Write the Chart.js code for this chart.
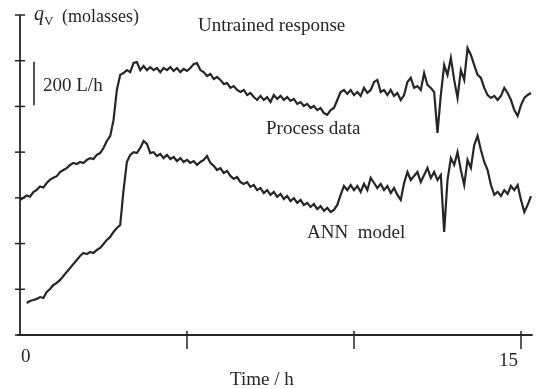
<!DOCTYPE html>
<html>
<head>
<meta charset="utf-8">
<script src="https://cdn.jsdelivr.net/npm/chart.js@4"></script>
<style>
  html, body { margin: 0; padding: 0; background: #fff; }
  #wrap { width: 545px; height: 389px; position: relative; }
</style>
</head>
<body>
<div id="wrap"><canvas id="chart" width="545" height="389"></canvas></div>
<script>
// time axis, hours
const processTimes = [0,0.1,0.2,0.3,0.4,0.5,0.6,0.7,0.8,0.9,1.0,1.1,1.2,1.3,1.4,1.5,1.6,1.7,1.8,1.9,
  2.0,2.1,2.2,2.3,2.4,2.5,2.6,2.7,2.8,2.9,3.0,3.1,3.2,3.3,3.4,3.5,3.6,3.7,3.8,3.9,
  4.0,4.1,4.2,4.3,4.4,4.5,4.6,4.7,4.8,4.9,5.0,5.1,5.2,5.3,5.4,5.5,5.6,5.7,5.8,5.9,
  6.0,6.1,6.2,6.3,6.4,6.5,6.6,6.7,6.8,6.9,7.0,7.1,7.2,7.3,7.4,7.5,7.6,7.7,7.8,7.9,
  8.0,8.1,8.2,8.3,8.4,8.5,8.6,8.7,8.8,8.9,9.0,9.1,9.2,9.3,9.4,9.5,9.6,9.7,9.8,9.9,
  10.0,10.1,10.2,10.3,10.4,10.5,10.6,10.7,10.8,10.9,11.0,11.1,11.2,11.3,11.4,11.5,11.6,11.7,11.8,11.9,
  12.0,12.1,12.2,12.3,12.4,12.5,12.6,12.7,12.8,12.9,13.0,13.1,13.2,13.3,13.4,13.5,13.6,13.7,13.8,13.9,
  14.0,14.1,14.2,14.3,14.4,14.5,14.6,14.7,14.8,14.9,15.0,15.1,15.2,15.3];

// molasses flow, process data (L/h, offset trace)
const processData = [590,600,610,605,625,635,650,645,665,680,688,695,713,722,730,744,753,748,757,752,
  766,774,770,788,796,818,849,870,940,1072,1138,1146,1159,1150,1190,1194,1159,1177,1159,1172,
  1159,1168,1150,1168,1159,1172,1155,1168,1150,1164,1155,1168,1185,1190,1159,1150,1133,1142,1120,1129,
  1116,1098,1102,1081,1089,1072,1063,1072,1050,1059,1041,1028,1046,1028,1041,1019,1050,1033,1046,1028,
  1041,1024,1033,1011,1019,1002,1011,993,1002,984,993,971,963,984,993,1028,1063,1072,1055,1072,
  1050,1063,1046,1081,1059,1072,1107,1116,1063,1072,1050,1072,1046,1059,1028,1050,1107,1125,1081,1089,
  1072,1146,1094,1081,1063,884,1050,1181,1138,1212,1116,1037,1159,1116,1256,1225,1181,1138,1125,1081,
  1050,1037,1046,1028,1046,1081,1059,1028,984,958,1006,1037,1050,1059];

const annTimes = [0.2,0.3,0.4,0.5,0.6,0.7,0.8,0.9,1.0,1.1,1.2,1.3,1.4,1.5,1.6,1.7,1.8,1.9,
  2.0,2.1,2.2,2.3,2.4,2.5,2.6,2.7,2.8,2.9,3.0,3.1,3.2,3.3,3.4,3.5,3.6,3.7,3.8,3.9,
  4.0,4.1,4.2,4.3,4.4,4.5,4.6,4.7,4.8,4.9,5.0,5.1,5.2,5.3,5.4,5.5,5.6,5.7,5.8,5.9,
  6.0,6.1,6.2,6.3,6.4,6.5,6.6,6.7,6.8,6.9,7.0,7.1,7.2,7.3,7.4,7.5,7.6,7.7,7.8,7.9,
  8.0,8.1,8.2,8.3,8.4,8.5,8.6,8.7,8.8,8.9,9.0,9.1,9.2,9.3,9.4,9.5,9.6,9.7,9.8,9.9,
  10.0,10.1,10.2,10.3,10.4,10.5,10.6,10.7,10.8,10.9,11.0,11.1,11.2,11.3,11.4,11.5,11.6,11.7,11.8,11.9,
  12.0,12.1,12.2,12.3,12.4,12.5,12.6,12.7,12.8,12.9,13.0,13.1,13.2,13.3,13.4,13.5,13.6,13.7,13.8,13.9,
  14.0,14.1,14.2,14.3,14.4,14.5,14.6,14.7,14.8,14.9,15.0,15.1,15.2,15.3,15.4,15.5,15.6];

// ANN model (untrained) output
const annData = [140,149,153,158,166,162,188,201,219,228,241,258,276,293,311,328,346,359,
  354,363,359,372,381,398,416,429,451,468,481,634,757,788,800,796,818,849,836,796,
  800,783,792,774,788,770,779,761,774,757,766,753,761,744,757,766,783,753,740,722,
  730,709,718,696,683,691,669,661,669,648,656,634,643,621,634,613,626,604,617,595,
  608,586,599,578,591,569,578,560,573,551,564,543,556,538,547,569,613,652,634,656,
  634,652,626,661,634,687,665,643,661,634,652,621,643,613,591,665,713,678,696,713,
  669,700,731,687,713,678,700,451,678,774,744,800,722,656,766,731,831,871,809,757,
  722,656,613,626,608,634,617,652,634,656,591,538,569,608,626,643,652];

const xTicks = [0, 5, 10, 15];
const xTickLabels = ['0', '', '', '15'];
const yTicks = [0, 200, 400, 600, 800, 1000, 1200, 1400];

const INK = '#262626';
const SERIF = '"Liberation Serif", "DejaVu Serif", serif';

const toPoints = (xs, ys) => xs.map((x, i) => ({ x: x, y: ys[i] }));

// axes, ticks and annotations drawn through the chart's own scales
const axesPlugin = {
  id: 'axesPlugin',
  afterDraw(chart) {
    const ctx = chart.ctx;
    const xs = chart.scales.x, ys = chart.scales.y;
    const x0 = xs.getPixelForValue(0);
    const y0 = ys.getPixelForValue(0);
    const yTop = ys.getPixelForValue(1400);
    ctx.save();
    ctx.strokeStyle = INK;
    ctx.lineWidth = 1.8;
    // y axis
    ctx.beginPath();
    ctx.moveTo(x0, yTop);
    ctx.lineTo(x0, y0);
    ctx.stroke();
    // x axis
    ctx.beginPath();
    ctx.moveTo(x0 - 3, y0);
    ctx.lineTo(xs.getPixelForValue(15.35), y0);
    ctx.stroke();
    ctx.lineWidth = 1.5;
    yTicks.forEach(v => {
      const py = ys.getPixelForValue(v);
      ctx.beginPath();
      ctx.moveTo(x0 - 5, py);
      ctx.lineTo(x0 + 5, py);
      ctx.stroke();
    });
    xTicks.slice(1).forEach(v => {
      const px = xs.getPixelForValue(v);
      ctx.beginPath();
      ctx.moveTo(px, y0 - 4);
      ctx.lineTo(px, y0 + 14);
      ctx.stroke();
    });
    // 200 L/h scale bar
    ctx.lineWidth = 1.6;
    ctx.beginPath();
    ctx.moveTo(x0 + 14, ys.getPixelForValue(1195));
    ctx.lineTo(x0 + 14, ys.getPixelForValue(1005));
    ctx.stroke();

    ctx.fillStyle = INK;
    ctx.textBaseline = 'alphabetic';
    ctx.font = '19px ' + SERIF;
    xTicks.forEach((v, i) => {
      if (!xTickLabels[i]) return;
      const px = xs.getPixelForValue(v);
      ctx.textAlign = i === 0 ? 'left' : 'right';
      ctx.fillText(xTickLabels[i], i === 0 ? px + 1 : px - 3, y0 + (i === 0 ? 27 : 31));
    });
    ctx.textAlign = 'left';
    ctx.fillText('Time / h', 230, 385);
    ctx.fillText('200 L/h', 43, 91);
    ctx.fillText('Untrained response', 198, 31);
    ctx.fillText('Process data', 266, 134);
    ctx.fillText('ANN  model', 307, 238);
    // q_v (molasses)
    ctx.font = 'italic 20px ' + SERIF;
    ctx.fillText('q', 34, 20);
    ctx.font = '13px ' + SERIF;
    ctx.fillText('V', 44, 25);
    ctx.font = '18px ' + SERIF;
    ctx.fillText('(molasses)', 62, 22);
    ctx.restore();
  }
};

new Chart(document.getElementById('chart').getContext('2d'), {
  type: 'line',
  data: {
    datasets: [
      {
        label: 'Process data',
        data: toPoints(processTimes, processData),
        borderColor: INK,
        borderWidth: 2.2,
        pointRadius: 0,
        tension: 0,
        clip: false
      },
      {
        label: 'ANN model',
        data: toPoints(annTimes, annData),
        borderColor: INK,
        borderWidth: 2.2,
        pointRadius: 0,
        tension: 0,
        clip: false
      }
    ]
  },
  options: {
    responsive: false,
    animation: false,
    layout: { padding: { left: 20, right: 14, top: 15, bottom: 54 } },
    plugins: { legend: { display: false }, tooltip: { enabled: false } },
    scales: {
      x: { type: 'linear', display: false, min: 0, max: 15.3 },
      y: { type: 'linear', display: false, min: 0, max: 1400 }
    }
  },
  plugins: [axesPlugin]
});
</script>
</body>
</html>
